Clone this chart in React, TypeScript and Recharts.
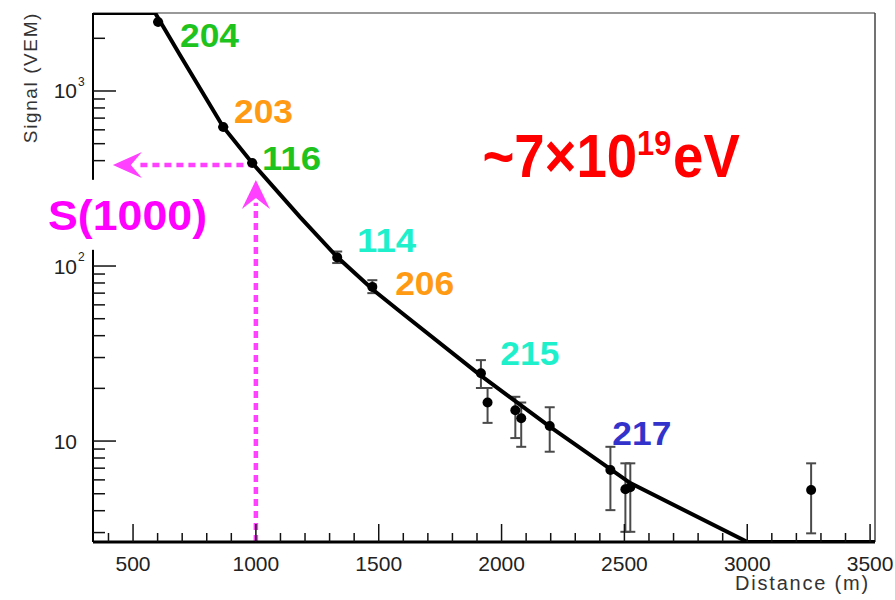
import React from "react";
import {
  ComposedChart,
  Line,
  Scatter,
  XAxis,
  YAxis,
  ErrorBar,
  ReferenceLine,
  ReferenceDot,
  Label,
} from "recharts";

// fitted lateral distribution function
const fitDistance = [337, 590, 691, 867, 985, 1180, 1331, 1478, 1588, 1913, 2199, 2362, 2524, 3001, 3520];
const fitSignal = [2790, 2790, 1606, 623, 388, 190.5, 112.6, 72.9, 54.8, 23.8, 12.0, 8.32, 5.75, 2.65, 2.65];

// measured station signals
const stationDistance = [602, 867, 985, 1331, 1474, 1916, 1943, 2056, 2080, 2196, 2443, 2504, 2524, 3260];
const stationSignal = [2478, 622, 388, 112, 76, 24.4, 16.6, 15.0, 13.5, 12.2, 6.83, 5.3, 5.44, 5.25];
const signalLow = [2478, 622, 388, 104, 70, 20.1, 12.7, 10.4, 9.27, 8.69, 4.03, 3.03, 3.03, 2.97];
const signalHigh = [2478, 622, 388, 121, 83, 29.0, 20.1, 17.9, 16.6, 15.6, 9.27, 7.46, 7.46, 7.46];

// axis ticks
const xMajorTicks = [500, 1000, 1500, 2000, 2500, 3000, 3500];
const xMinorTicks = [
  400, 600, 700, 800, 900, 1100, 1200, 1300, 1400, 1600, 1700, 1800, 1900, 2100, 2200, 2300, 2400,
  2600, 2700, 2800, 2900, 3100, 3200, 3300, 3400,
];
const yMajorTicks = [10, 100, 1000];
const yMajorExp = ["", "2", "3"];
const yMinorTicks = [3, 4, 5, 6, 7, 8, 9, 20, 30, 40, 50, 60, 70, 80, 90, 200, 300, 400, 500, 600, 700, 800, 900, 2000];

// station id labels
const stationIds = ["204", "203", "116", "114", "206", "215", "217"];
const idDistance = [691, 911, 1025, 1412, 1567, 1995, 2451];
const idSignal = [1783, 656, 354, 120, 68.2, 27.2, 9.48];
const idColors = ["#1ec31e", "#ff9a12", "#1ec31e", "#1ff0cc", "#ff9a12", "#1ff0cc", "#3333cc"];

const fitData = fitDistance.map((d, i) => ({ d, fit: fitSignal[i] }));
const stationData = stationDistance.map((d, i) => ({
  d,
  s: stationSignal[i],
  err: [stationSignal[i] - signalLow[i], signalHigh[i] - stationSignal[i]],
}));

const FONT = "'Liberation Sans', Arial, Helvetica, sans-serif";
const MAGENTA = "#ff40ff";
const X_DOMAIN = [337, 3520];
const Y_DOMAIN = [2.65, 2790];

const XLabel = (props: any) => (
  <text x={props.x} y={props.y + 29} textAnchor="middle" fontSize={21} fontFamily={FONT} fill="#222">
    {props.payload.value}
  </text>
);

const YLabel = (props: any) => {
  const { x, y, payload } = props;
  const exp = yMajorExp[yMajorTicks.indexOf(payload.value)];
  return (
    <g fontFamily={FONT} fill="#222">
      <text x={x - 16} y={y + 7.5} textAnchor="end" fontSize={21}>
        10
      </text>
      {exp && (
        <text x={x - 15} y={y - 5} fontSize={12}>
          {exp}
        </text>
      )}
    </g>
  );
};

const Dot = (props: any) => <circle cx={props.cx} cy={props.cy} r={5} fill="#000" />;

export default function App() {
  return (
    <div style={{ position: "absolute", left: 0, top: 0, background: "#fff" }}>
      <ComposedChart width={895} height={600} margin={{ top: 13, right: 20, bottom: 0, left: 0 }}>
        <XAxis
          dataKey="d"
          type="number"
          domain={X_DOMAIN}
          allowDataOverflow
          ticks={xMajorTicks}
          interval={0}
          tick={<XLabel />}
          tickSize={-18}
          tickMargin={18}
          tickLine={{ stroke: "#111", strokeWidth: 1.5 }}
          height={58}
          axisLine={{ stroke: "#000", strokeWidth: 3 }}
        >
          <Label
            content={(p: any) => (
              <text
                x={p.viewBox.x + p.viewBox.width - 5}
                y={p.viewBox.y + 48}
                textAnchor="end"
                fontSize={20}
                letterSpacing={1.8}
                fontFamily={FONT}
                fill="#333"
              >
                Distance (m)
              </text>
            )}
          />
        </XAxis>
        <YAxis
          type="number"
          scale="log"
          domain={Y_DOMAIN}
          allowDataOverflow
          ticks={yMajorTicks}
          interval={0}
          tick={<YLabel />}
          tickSize={-23}
          tickMargin={23}
          tickLine={{ stroke: "#111", strokeWidth: 1.5 }}
          width={93}
          axisLine={{ stroke: "#000", strokeWidth: 2 }}
        >
          <Label
            content={() => (
              <text
                x={37}
                y={12}
                transform="rotate(-90, 37, 12)"
                textAnchor="end"
                fontSize={19}
                letterSpacing={1.6}
                fontFamily={FONT}
                fill="#333"
              >
                Signal (VEM)
              </text>
            )}
          />
        </YAxis>

        {/* frame */}
        <ReferenceLine y={2790} stroke="#999" strokeWidth={2} />
        <ReferenceLine x={3520} stroke="#444" strokeWidth={1.5} />

        {/* minor ticks, pointing into the frame */}
        {xMinorTicks.map((v) => (
          <ReferenceDot
            key={"xm" + v}
            x={v}
            y={Y_DOMAIN[0]}
            r={0}
            ifOverflow="visible"
            shape={(p: any) => (
              <path d={`M${p.cx},${p.cy} L${p.cx},${p.cy - 9}`} stroke="#111" strokeWidth={1.5} fill="none" />
            )}
          />
        ))}
        {yMinorTicks.map((v) => (
          <ReferenceDot
            key={"ym" + v}
            x={X_DOMAIN[0]}
            y={v}
            r={0}
            ifOverflow="visible"
            shape={(p: any) => (
              <path d={`M${p.cx},${p.cy} L${p.cx + 12},${p.cy}`} stroke="#111" strokeWidth={1.5} fill="none" />
            )}
          />
        ))}

        <Scatter data={stationData} dataKey="s" shape={<Dot />} isAnimationActive={false}>
          <ErrorBar dataKey="err" direction="y" width={5} stroke="#4a4a4a" strokeWidth={2} />
        </Scatter>
        <Line
          data={fitData}
          dataKey="fit"
          type="linear"
          stroke="#000"
          strokeWidth={4}
          dot={false}
          isAnimationActive={false}
        />

        {/* S(1000) arrows */}
        <ReferenceLine
          segment={[{ x: 530, y: 378 }, { x: 975, y: 378 }]}
          stroke={MAGENTA}
          strokeWidth={4.5}
          strokeDasharray="7 5"
        />
        <ReferenceLine
          segment={[{ x: 1000, y: 2.65 }, { x: 1000, y: 230 }]}
          stroke={MAGENTA}
          strokeWidth={4.5}
          strokeDasharray="7 5"
        />
        <ReferenceDot
          x={418}
          y={378}
          r={0}
          shape={(p: any) => (
            <path
              d={`M${p.cx},${p.cy} L${p.cx + 29},${p.cy - 13} L${p.cx + 18},${p.cy} L${p.cx + 29},${p.cy + 13} Z`}
              fill={MAGENTA}
            />
          )}
        />
        <ReferenceDot
          x={1000}
          y={310}
          r={0}
          shape={(p: any) => (
            <path
              d={`M${p.cx},${p.cy} L${p.cx + 14},${p.cy + 29} L${p.cx},${p.cy + 18} L${p.cx - 14},${p.cy + 29} Z`}
              fill={MAGENTA}
            />
          )}
        />

        {/* S(1000) label with white box */}
        <ReferenceDot
          x={154}
          y={161}
          r={0}
          ifOverflow="visible"
          shape={(p: any) => (
            <g>
              <rect x={p.cx - 8} y={p.cy - 50} width={174} height={70} fill="#fff" />
              <text
                x={p.cx}
                y={p.cy}
                fontSize={42}
                fontWeight="bold"
                fontFamily={FONT}
                fill="#ff00ff"
                textLength={159}
                lengthAdjust="spacingAndGlyphs"
              >
                S(1000)
              </text>
            </g>
          )}
        />

        {/* station ids */}
        {stationIds.map((id, i) => (
          <ReferenceDot
            key={id + i}
            x={idDistance[i]}
            y={idSignal[i]}
            r={0}
            shape={(p: any) => (
              <text
                x={p.cx}
                y={p.cy}
                fontSize={34}
                fontWeight="bold"
                fontFamily={FONT}
                fill={idColors[i]}
                textLength={59}
                lengthAdjust="spacingAndGlyphs"
              >
                {id}
              </text>
            )}
          />
        ))}

        {/* primary energy */}
        <ReferenceDot
          x={1922}
          y={323}
          r={0}
          shape={(p: any) => (
            <g transform={`translate(${p.cx},${p.cy}) scale(0.88,1)`}>
              <text x={0} y={0} fontFamily={FONT} fontWeight="bold" fill="#ff0000" fontSize={62}>
                ~7×10
                <tspan dy={-22} fontSize={35}>
                  19
                </tspan>
                <tspan dy={22} dx={2}>
                  eV
                </tspan>
              </text>
            </g>
          )}
        />
      </ComposedChart>
    </div>
  );
}
